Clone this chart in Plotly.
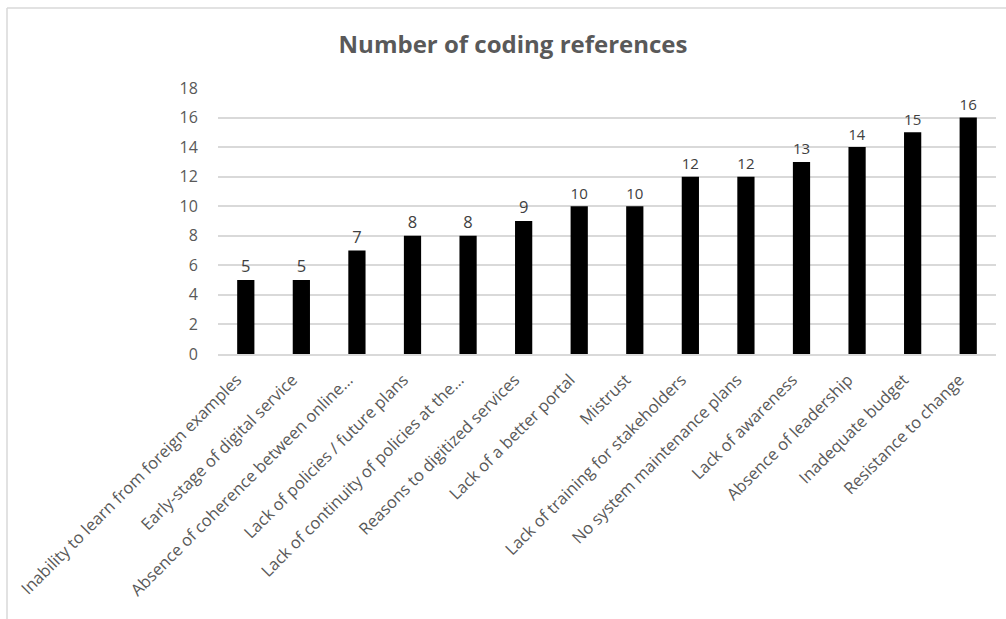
import plotly.graph_objects as go

categories = [
    "Inability to learn from foreign examples",
    "Early-stage of digital service",
    "Absence of coherence between online…",
    "Lack of policies / future plans",
    "Lack of continuity of policies at the…",
    "Reasons to digitized services",
    "Lack of a better portal",
    "Mistrust",
    "Lack of training for stakeholders",
    "No system maintenance plans",
    "Lack of awareness",
    "Absence of leadership",
    "Inadequate budget",
    "Resistance to change",
]
values = [5, 5, 7, 8, 8, 9, 10, 10, 12, 12, 13, 14, 15, 16]
y_ticks = [0, 2, 4, 6, 8, 10, 12, 14, 16, 18]

W, H = 1006, 619
ML, MR, MT, MB = 218, 10, 88, 265
FONT = "Open Sans"

fig = go.Figure(go.Bar(
    x=categories, y=values,
    marker=dict(color="black", line=dict(width=0)),
    text=[str(v) for v in values], textposition="outside",
    textfont=dict(family=FONT, size=16.5, color="#404040"),
    cliponaxis=False,
))

pw = W - ML - MR
ph = H - MT - MB
def px_x(p):
    return (p - ML) / pw
def px_y(p):
    return (H - MB - p) / ph

fig.update_layout(
    width=W, height=H,
    margin=dict(l=ML, r=MR, t=MT, b=MB),
    paper_bgcolor="white", plot_bgcolor="white",
    bargap=0.69,
    showlegend=False,
    title=dict(text="<b>Number of coding references</b>", x=0.51, xanchor="center",
               y=1 - 45 / H, yanchor="middle",
               font=dict(family=FONT, size=24, color="#595959")),
    xaxis=dict(tickangle=-45, tickfont=dict(family=FONT, size=16.5, color="#595959"),
               showgrid=False, showline=True, linecolor="#d9d9d9", linewidth=1.5,
               ticks="outside", ticklen=8, tickcolor="rgba(0,0,0,0)",
               ticklabelshift=-9),
    yaxis=dict(range=[0, 18], tickvals=y_ticks, showgrid=True, gridcolor="#d9d9d9",
               gridwidth=1.5, zeroline=False, showline=False,
               tickfont=dict(family=FONT, size=16, color="#595959"),
               ticks="outside", ticklen=16, tickcolor="rgba(0,0,0,0)"),
    shapes=[
        dict(type="line", xref="paper", yref="paper", x0=px_x(7), x1=px_x(W + 5),
             y0=px_y(8), y1=px_y(8), line=dict(color="#d9d9d9", width=1.5)),
        dict(type="line", xref="paper", yref="paper", x0=px_x(7), x1=px_x(7),
             y0=px_y(8), y1=px_y(H + 5), line=dict(color="#d9d9d9", width=1.5)),
    ],
)

fig.write_html("out.html")
